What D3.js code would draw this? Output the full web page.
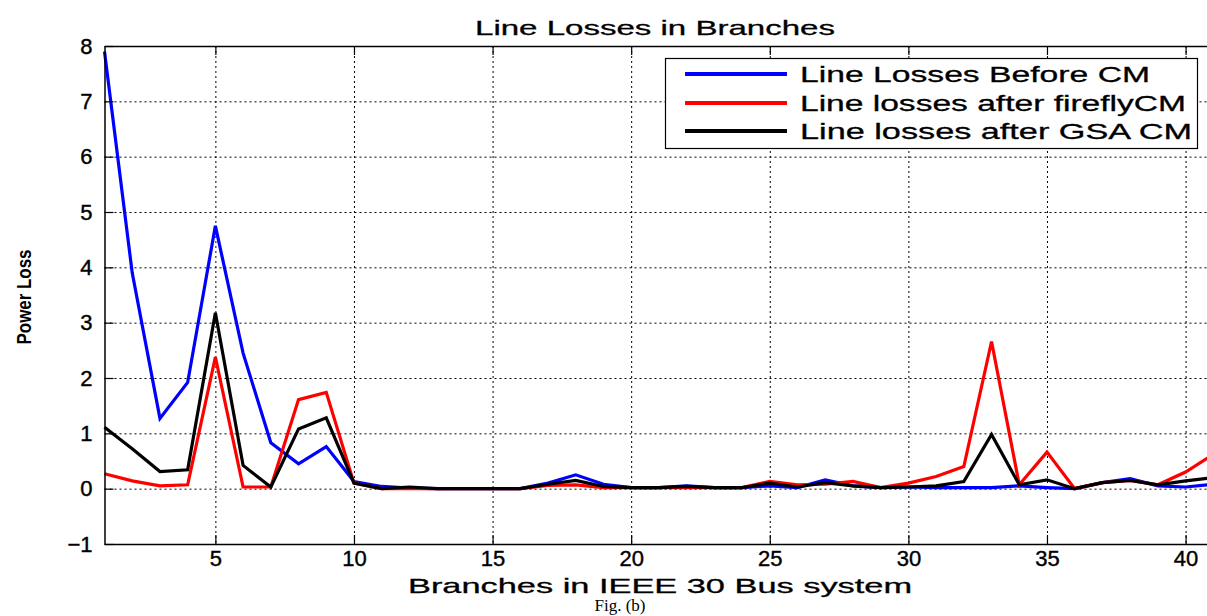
<!DOCTYPE html>
<html>
<head>
<meta charset="utf-8">
<script src="https://cdn.jsdelivr.net/npm/d3@7"></script>
<style>
  body { margin: 0; background: #fff; }
  svg { display: block; font-family: "Liberation Sans", Arial, sans-serif; }
</style>
</head>
<body>
<svg width="1207" height="616"></svg>
<script>
var branches = d3.range(1, 42);

// line losses before CM (blue)
var lossBefore = [7.9, 3.9, 1.27, 1.92, 4.75, 2.45, 0.83, 0.45, 0.76, 0.13,
  0.04, 0.01, 0, 0, 0, 0, 0.1, 0.25, 0.08, 0.02,
  0.02, 0.05, 0.02, 0.02, 0.05, 0.02, 0.16, 0.05, 0.02, 0.03,
  0.02, 0.02, 0.02, 0.05, 0.02, 0, 0.11, 0.18, 0.05, 0.03, 0.08];

// after firefly CM (red)
var lossFirefly = [0.27, 0.14, 0.05, 0.07, 2.38, 0.03, 0.03, 1.61, 1.74, 0.1,
  0, 0, 0, 0, 0, 0, 0.06, 0.07, 0.02, 0.02,
  0.02, 0.02, 0.02, 0.02, 0.13, 0.07, 0.08, 0.13, 0.02, 0.1,
  0.22, 0.4, 2.66, 0.07, 0.66, 0, 0.11, 0.15, 0.07, 0.3, 0.62];

// after GSA CM (black)
var lossGSA = [1.11, 0.72, 0.31, 0.34, 3.18, 0.42, 0.03, 1.08, 1.28, 0.1,
  0, 0.03, 0, 0, 0, 0, 0.08, 0.15, 0.04, 0.02,
  0.02, 0.04, 0.02, 0.02, 0.1, 0.03, 0.11, 0.05, 0.02, 0.03,
  0.05, 0.13, 0.98, 0.07, 0.16, 0, 0.11, 0.15, 0.07, 0.14, 0.2];

var xTicks = [5, 10, 15, 20, 25, 30, 35, 40];
var yTicks = [-1, 0, 1, 2, 3, 4, 5, 6, 7, 8];
var legendLabels = ["Line Losses Before CM", "Line losses after fireflyCM", "Line losses after GSA CM"];
var seriesColors = ["#0000ff", "#ff0000", "#000000"];

var svg = d3.select("svg");
var mLeft = 104.5, mTop = 46, mBottom = 544;
var x = d3.scaleLinear().domain([1, 41]).range([mLeft, mLeft + 40 * 27.72]);
var y = d3.scaleLinear().domain([-1, 8]).range([mBottom, mTop]);
var mRight = x(41);

// grid
var grid = svg.append("g").attr("stroke", "#000").attr("stroke-width", 1)
  .attr("stroke-dasharray", "2,3");
grid.selectAll(".gx").data(xTicks).enter().append("line")
  .attr("x1", function(d) { return x(d) + 0.5; }).attr("x2", function(d) { return x(d) + 0.5; })
  .attr("y1", mTop).attr("y2", mBottom);
grid.selectAll(".gy").data(yTicks).enter().append("line")
  .attr("y1", function(d) { return y(d) + 0.5; }).attr("y2", function(d) { return y(d) + 0.5; })
  .attr("x1", mLeft).attr("x2", mRight);

// series
var line = d3.line()
  .x(function(d, i) { return x(branches[i]); })
  .y(function(d) { return y(d); });

[lossBefore, lossFirefly, lossGSA].forEach(function(s, i) {
  svg.append("path")
    .attr("d", line(s))
    .attr("fill", "none")
    .attr("stroke", seriesColors[i])
    .attr("stroke-width", 3.2)
    .attr("stroke-linejoin", "miter");
});

// axes (MATLAB-style inward ticks)
var axB = d3.axisBottom(x).tickValues(xTicks).tickSizeInner(-9).tickSizeOuter(0).tickPadding(6);
var axT = d3.axisTop(x).tickValues(xTicks).tickSizeInner(-9).tickSizeOuter(0).tickFormat("");
var axL = d3.axisLeft(y).tickValues(yTicks).tickSizeInner(-9).tickSizeOuter(0).tickPadding(12);

svg.append("g").attr("transform", "translate(0," + mBottom + ")").call(axB);
svg.append("g").attr("transform", "translate(0," + mTop + ")").call(axT);
svg.append("g").attr("transform", "translate(" + mLeft + ",0)").call(axL);

svg.selectAll(".domain").attr("stroke", "#000").attr("stroke-width", 1.5);
svg.selectAll(".tick line").attr("stroke", "#000").attr("stroke-width", 1.2);
svg.selectAll(".tick text")
  .attr("font-family", "Liberation Sans, Arial, sans-serif")
  .attr("font-size", 22)
  .attr("fill", "#000")
  .attr("stroke", "#000").attr("stroke-width", 0.4);

// title and labels
svg.append("text").attr("x", 655).attr("y", 35).attr("text-anchor", "middle")
  .attr("font-size", 21).attr("textLength", 360).attr("lengthAdjust", "spacingAndGlyphs")
  .attr("stroke", "#000").attr("stroke-width", 0.3)
  .text("Line Losses in Branches");

svg.append("text").attr("x", 660).attr("y", 593).attr("text-anchor", "middle")
  .attr("font-size", 21).attr("textLength", 504).attr("lengthAdjust", "spacingAndGlyphs")
  .attr("stroke", "#000").attr("stroke-width", 0.3)
  .text("Branches in IEEE 30 Bus system");

svg.append("text").attr("x", 620).attr("y", 611).attr("text-anchor", "middle")
  .attr("font-family", "Liberation Serif, Times New Roman, serif")
  .attr("font-size", 17)
  .text("Fig. (b)");

svg.append("text")
  .attr("transform", "translate(31,297) rotate(-90)")
  .attr("text-anchor", "middle")
  .attr("font-size", 20).attr("font-weight", "bold")
  .attr("textLength", 95).attr("lengthAdjust", "spacingAndGlyphs")
  .text("Power Loss");

// legend
var lg = svg.append("g");
lg.append("rect").attr("x", 665.5).attr("y", 58.5).attr("width", 532).attr("height", 90)
  .attr("fill", "#fff").attr("stroke", "#000").attr("stroke-width", 1.2);
var rowY = [74, 103, 131];
legendLabels.forEach(function(t, i) {
  lg.append("line").attr("x1", 685).attr("x2", 787).attr("y1", rowY[i]).attr("y2", rowY[i])
    .attr("stroke", seriesColors[i]).attr("stroke-width", 4);
  lg.append("text").attr("x", 800).attr("y", rowY[i] + 8).attr("font-size", 22)
    .attr("textLength", [350, 386, 392][i]).attr("lengthAdjust", "spacingAndGlyphs")
    .attr("stroke", "#000").attr("stroke-width", 0.3)
    .text(t);
});
</script>
</body>
</html>
